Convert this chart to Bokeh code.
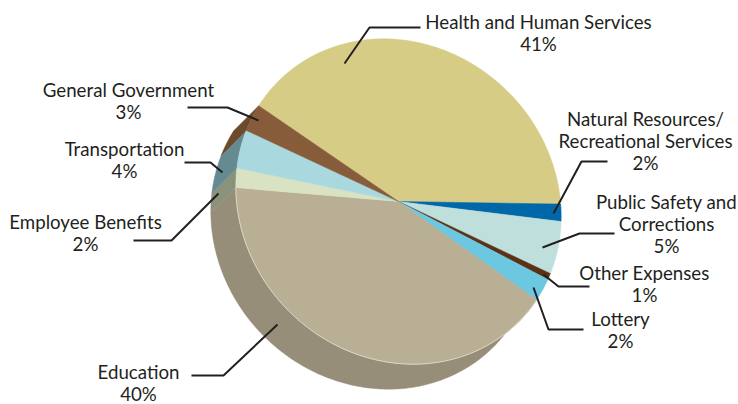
import math
from bokeh.plotting import figure
from bokeh.models import Range1d
from bokeh.core.properties import value
from bokeh.embed import file_html
from bokeh.resources import INLINE

# Slices, clockwise, starting at the upper-left edge of Health and Human Services
categories = ["Health and Human Services", "Natural Resources/ Recreational Services",
              "Public Safety and Corrections", "Other Expenses", "Lottery", "Education",
              "Employee Benefits", "Transportation", "General Government"]
shares = [40.7, 1.7, 5.1, 0.6, 2.2, 41.5, 1.9, 3.7, 2.6]
face_colors = ["#d6cc85", "#0068a8", "#bfdfdc", "#5b3216", "#6cc7e0", "#b8af95", "#d9e2c3", "#a9d9df", "#875c3a"]
side_colors = ["#a9a46c", "#004f80", "#90a8a6", "#44250f", "#5196a9", "#968e79", "#8a927c", "#668a91", "#6e4a2c"]

labels = [
    (["Health and Human Services", "41%"], 538, 21),
    (["Natural Resources/", "Recreational Services", "2%"], 645, 118),
    (["Public Safety and", "Corrections", "5%"], 666, 201),
    (["Other Expenses", "1%"], 644, 272),
    (["Lottery", "2%"], 620, 318),
    (["Education", "40%"], 138, 371),
    (["Employee Benefits", "2%"], 85, 221),
    (["Transportation", "4%"], 124, 148),
    (["General Government", "3%"], 128, 89),
]
leader_x = [[344, 369, 420], [553, 581, 607], [542, 579, 614], [543, 558, 589], [533, 548, 583], [277, 223, 191],
            [218, 171, 133], [222, 210, 184], [258, 227, 187]]
leader_y = [[63, 27, 27], [213, 161, 161], [247, 233, 233], [274, 286, 286], [287, 329, 329], [324, 375, 375],
            [193, 240, 240], [172, 162, 162], [120, 107, 107]]

CX, CY, MAJOR, MINOR, TILT, DX, DY, START = 398, 201, 170, 155, math.radians(45), -25, 25, 145.6
FONT, SIZE, LH = "Lato", 18.7, 22


def rim(a_deg):
    a = math.radians(a_deg)
    phi = a + TILT  # screen angle relative to the major axis
    r = 1 / math.sqrt((math.cos(phi) / MAJOR) ** 2 + (math.sin(phi) / MINOR) ** 2)
    return CX + r * math.cos(a), CY - r * math.sin(a)


p = figure(width=738, height=404, output_backend="svg", toolbar_location=None,
           x_range=Range1d(0, 738), y_range=Range1d(404, 0), min_border=0,
           outline_line_color=None, background_fill_color="white")
p.margin = (0, -16, -16, 0)
p.axis.visible = False
p.grid.visible = False

total = sum(shares)
spans = []
a = START
for s in shares:
    b = a - s / total * 360
    spans.append((a, b))
    a = b

# side wall, drawn before the face
for (a, b), col in zip(spans, side_colors):
    n = max(3, int(abs(a - b)))
    arc = [rim(a + (b - a) * i / n) for i in range(n + 1)]
    xs = [q[0] for q in arc] + [q[0] + DX for q in reversed(arc)]
    ys = [q[1] for q in arc] + [q[1] + DY for q in reversed(arc)]
    if a > -240 and b < -45 or a <= 145.6 and b >= 130:
        p.patch(xs, ys, fill_color=col, line_color=col, line_width=0.5)

# top face
for (a, b), col in zip(spans, face_colors):
    n = max(3, int(abs(a - b)))
    arc = [rim(a + (b - a) * i / n) for i in range(n + 1)]
    xs = [CX] + [q[0] for q in arc]
    ys = [CY] + [q[1] for q in arc]
    p.patch(xs, ys, fill_color=col, line_color=col, line_width=0.5)
    if col == face_colors[5]:
        p.line([q[0] for q in arc], [q[1] for q in arc], line_color="#dcd8c6", line_width=1)

for lx, ly in zip(leader_x, leader_y):
    p.line(lx, ly, line_color="#231f20", line_width=2)

for lines, x, y in labels:
    for i, t in enumerate(lines):
        p.text([x], [y + i * LH], text=[t], text_font=value(FONT), text_font_size=f"{SIZE}px",
               text_align="center", text_baseline="middle", text_color="#231f20")

open("out.html", "w").write(file_html(p, INLINE))
